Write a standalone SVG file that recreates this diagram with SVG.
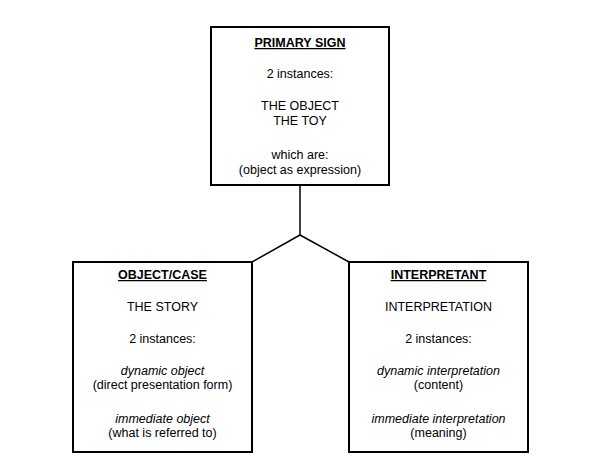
<svg xmlns="http://www.w3.org/2000/svg" width="599" height="476" viewBox="0 0 599 476">
<style>
.box{fill:#fff;stroke:#000;stroke-width:2}
.t{font-family:"Liberation Sans",Arial,sans-serif;font-size:12.5px;fill:#000;text-anchor:middle}
.h{font-weight:bold;text-decoration:underline}
.i{font-style:italic}
.c{fill:none;stroke:#000;stroke-width:1.5}
</style>
<rect width="599" height="476" fill="#fff"/>
<g id="connectors">
<polyline class="c" points="300,185 300,235 252,262"/>
<line class="c" x1="300" y1="235" x2="349" y2="262"/>
</g>
<g id="primary-sign">
<rect class="box" x="211" y="27" width="178" height="158"/>
<text class="t h" x="300" y="47">PRIMARY SIGN</text>
<text class="t" x="300" y="78">2 instances:</text>
<text class="t" x="300" y="110">THE OBJECT</text>
<text class="t" x="300" y="125">THE TOY</text>
<text class="t" x="300" y="159">which are:</text>
<text class="t" x="300" y="174">(object as expression)</text>
</g>
<g id="object-case">
<rect class="box" x="73" y="262" width="179" height="190"/>
<text class="t h" x="162.5" y="279">OBJECT/CASE</text>
<text class="t" x="162.5" y="311">THE STORY</text>
<text class="t" x="162.5" y="343">2 instances:</text>
<text class="t i" x="162.5" y="375">dynamic object</text>
<text class="t" x="162.5" y="389">(direct presentation form)</text>
<text class="t i" x="162.5" y="423">immediate object</text>
<text class="t" x="162.5" y="437">(what is referred to)</text>
</g>
<g id="interpretant">
<rect class="box" x="349" y="262" width="179" height="190"/>
<text class="t h" x="438.5" y="279">INTERPRETANT</text>
<text class="t" x="438.5" y="311">INTERPRETATION</text>
<text class="t" x="438.5" y="343">2 instances:</text>
<text class="t i" x="438.5" y="375">dynamic interpretation</text>
<text class="t" x="438.5" y="389">(content)</text>
<text class="t i" x="438.5" y="423">immediate interpretation</text>
<text class="t" x="438.5" y="437">(meaning)</text>
</g>
</svg>
